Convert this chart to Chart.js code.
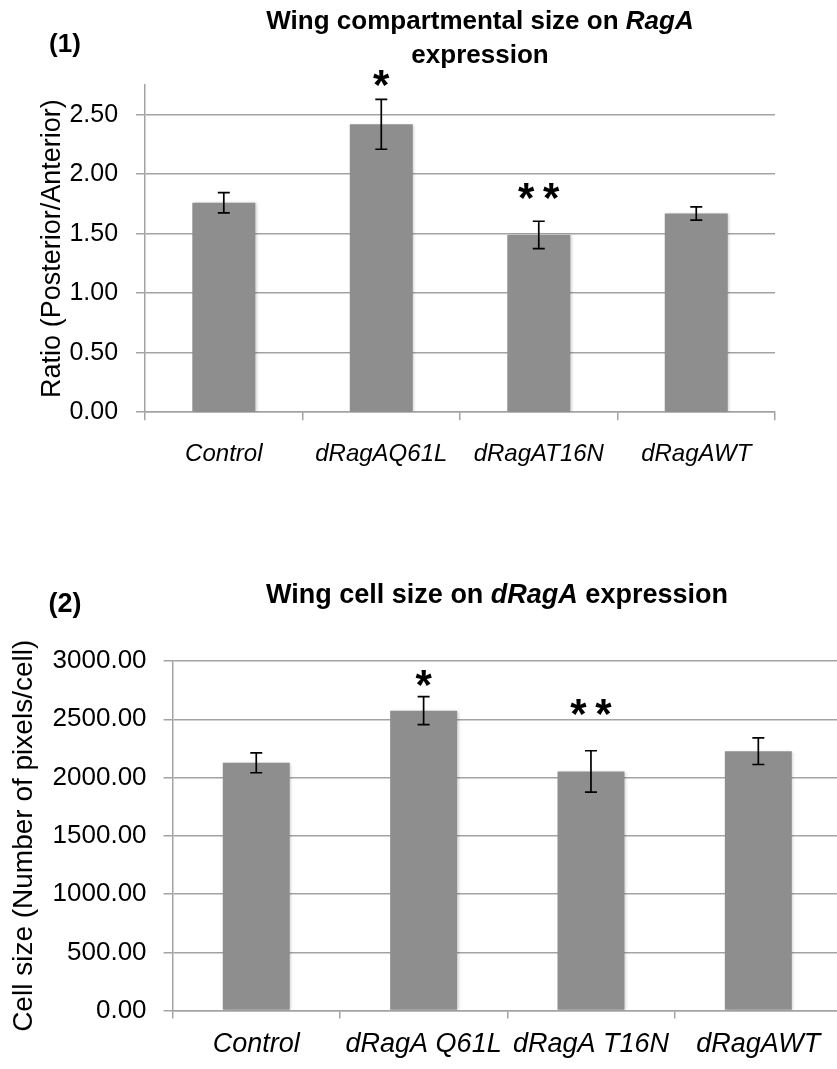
<!DOCTYPE html>
<html>
<head>
<meta charset="utf-8">
<script src="https://cdn.jsdelivr.net/npm/chart.js@4.4.0/dist/chart.umd.min.js"></script>
<style>
html, body { margin: 0; padding: 0; background: #fff; overflow: hidden; }
#wrap1 { position: absolute; left: 0; top: 0; width: 837px; height: 500px; }
#wrap2 { position: absolute; left: 0; top: 560px; width: 845px; height: 520px; }
</style>
</head>
<body>
<div id="wrap1"><canvas id="chart1" width="837" height="500"></canvas></div>
<div id="wrap2"><canvas id="chart2" width="845" height="520"></canvas></div>
<script>
// (1) compartment ratio
var categories1 = ['Control', 'dRagAQ61L', 'dRagAT16N', 'dRagAWT'];
var ratio = [1.76, 2.42, 1.49, 1.67];
var ratioErr = [0.085, 0.21, 0.115, 0.055];
var ratioMarks = ['', '*', '**', ''];
var ratioMarkAt = [null, 2.81, 1.86, null];
var ratioTicks = [0, 0.5, 1, 1.5, 2, 2.5];

// (2) cell size
var categories2 = ['Control', 'dRagA Q61L', 'dRagA T16N', 'dRagAWT'];
var cellSize = [2126, 2574, 2052, 2226];
var cellErr = [85, 120, 178, 114];
var cellMarks = ['', '*', '**', ''];
var cellMarkAt = [null, 2850, 2605, null];
var cellTicks = [0, 500, 1000, 1500, 2000, 2500, 3000];

var FONT = "'Liberation Sans', Arial, sans-serif";
var GRID = '#a3a3a3';
var BAR = '#8e8e8e';

function shadowPlugin() {
    return {
        id: 'barShadow',
        beforeDatasetsDraw: function(chart) {
            var ctx = chart.ctx;
            ctx.save();
            ctx.shadowColor = 'rgba(0,0,0,0.22)';
            ctx.shadowBlur = 3;
            ctx.shadowOffsetX = 1.5;
            ctx.shadowOffsetY = 0.5;
        },
        afterDatasetsDraw: function(chart) {
            chart.ctx.restore();
        }
    };
}

function errorPlugin(errs, marks, markAt) {
    return {
        id: 'errorBars',
        afterDatasetsDraw: function(chart) {
            var ctx = chart.ctx;
            var y = chart.scales.y;
            var vals = chart.data.datasets[0].data;
            ctx.save();
            ctx.strokeStyle = '#000';
            ctx.lineWidth = 1.7;
            chart.getDatasetMeta(0).data.forEach(function(bar, i) {
                var top = y.getPixelForValue(vals[i] + errs[i]);
                var bot = y.getPixelForValue(vals[i] - errs[i]);
                ctx.beginPath();
                ctx.moveTo(bar.x, top); ctx.lineTo(bar.x, bot);
                ctx.moveTo(bar.x - 6, top); ctx.lineTo(bar.x + 6, top);
                ctx.moveTo(bar.x - 6, bot); ctx.lineTo(bar.x + 6, bot);
                ctx.stroke();
                if (marks[i]) {
                    ctx.font = 'bold 42px ' + FONT;
                    ctx.fillStyle = '#000';
                    ctx.textAlign = 'center';
                    ctx.textBaseline = 'alphabetic';
                    var m = ctx.measureText('*');
                    var cy = y.getPixelForValue(markAt[i]);
                    var base = cy + (m.actualBoundingBoxAscent - m.actualBoundingBoxDescent) / 2;
                    var n = marks[i].length;
                    for (var k = 0; k < n; k++) {
                        ctx.fillText('*', bar.x + (k - (n - 1) / 2) * 25, base);
                    }
                }
            });
            ctx.restore();
        }
    };
}

function titlePlugin(t) {
    return {
        id: 'titles',
        afterDraw: function(chart) {
            var ctx = chart.ctx;
            ctx.save();
            ctx.fillStyle = '#000';
            ctx.textBaseline = 'middle';
            ctx.textAlign = 'center';
            ctx.font = 'bold ' + t.size + 'px ' + FONT;
            ctx.fillText(t.panel, t.panelX, t.panelY);
            ctx.textAlign = 'left';
            t.lines.forEach(function(line, k) {
                var w = 0;
                line.forEach(function(s) {
                    ctx.font = (s.it ? 'italic ' : '') + 'bold ' + t.size + 'px ' + FONT;
                    w += ctx.measureText(s.t).width;
                });
                var x = t.x - w / 2;
                line.forEach(function(s) {
                    ctx.font = (s.it ? 'italic ' : '') + 'bold ' + t.size + 'px ' + FONT;
                    ctx.fillText(s.t, x, t.y + k * t.gap);
                    x += ctx.measureText(s.t).width;
                });
            });
            ctx.restore();
        }
    };
}

function makeChart(id, labels, values, ticks, yMax, yTitle, look, plugins) {
    return new Chart(document.getElementById(id), {
        type: 'bar',
        data: {
            labels: labels,
            datasets: [{
                data: values,
                backgroundColor: BAR,
                borderWidth: 0,
                barPercentage: 0.4,
                categoryPercentage: 1.0
            }]
        },
        options: {
            responsive: false,
            animation: false,
            layout: { padding: look.padding },
            plugins: { legend: { display: false }, tooltip: { enabled: false } },
            scales: {
                x: {
                    grid: { display: true, drawOnChartArea: false, offset: true, color: GRID, lineWidth: 1.5, tickLength: 8 },
                    border: { color: GRID, width: 1.5 },
                    ticks: { color: '#000', font: { family: FONT, size: look.xFont, style: 'italic' }, padding: look.xPad, maxRotation: 0, autoSkip: false }
                },
                y: {
                    min: 0,
                    max: yMax,
                    afterBuildTicks: function(scale) {
                        scale.ticks = ticks.map(function(v) { return { value: v }; });
                    },
                    grid: { color: GRID, lineWidth: 1.5, tickLength: 9 },
                    border: { color: GRID, width: 1.5 },
                    ticks: {
                        color: '#000',
                        font: { family: FONT, size: look.yFont },
                        padding: look.yPad,
                        callback: function(v) { return Number(v).toFixed(2); }
                    },
                    title: {
                        display: true,
                        text: yTitle,
                        color: '#000',
                        font: { family: FONT, size: look.titleFont },
                        padding: look.titlePad
                    }
                }
            }
        },
        plugins: plugins
    });
}

makeChart('chart1', categories1, ratio, ratioTicks, 2.75, 'Ratio (Posterior/Anterior)', {
    padding: { top: 85, left: 30, right: 62, bottom: 11 },
    xFont: 24, xPad: 20, yFont: 25, yPad: 18, titleFont: 27, titlePad: { top: 6, bottom: -17 }
}, [
    shadowPlugin(),
    errorPlugin(ratioErr, ratioMarks, ratioMarkAt),
    titlePlugin({
        size: 26, panel: '(1)', panelX: 65, panelY: 45, x: 480, y: 22, gap: 34,
        lines: [[{ t: 'Wing compartmental size on ' }, { t: 'RagA', it: true }], [{ t: 'expression' }]]
    })
]);

makeChart('chart2', categories2, cellSize, cellTicks, 3000, 'Cell size (Number of pixels/cell)', {
    padding: { top: 101, left: 7, right: 3, bottom: 9 },
    xFont: 27, xPad: 10, yFont: 26, yPad: 17, titleFont: 28, titlePad: { top: 0, bottom: -5 }
}, [
    shadowPlugin(),
    errorPlugin(cellErr, cellMarks, cellMarkAt),
    titlePlugin({
        size: 27, panel: '(2)', panelX: 65, panelY: 45, x: 497, y: 36, gap: 0,
        lines: [[{ t: 'Wing cell size on ' }, { t: 'dRagA', it: true }, { t: ' expression' }]]
    })
]);
</script>
</body>
</html>
